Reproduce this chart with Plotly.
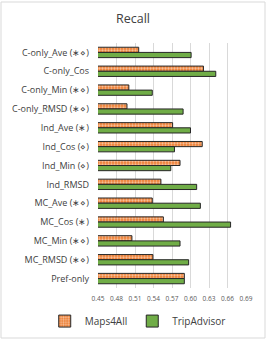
import plotly.graph_objects as go

categories = ["C-only_Ave (∗⋄)", "C-only_Cos", "C-only_Min (∗⋄)", "C-only_RMSD (∗⋄)",
              "Ind_Ave (∗)", "Ind_Cos (⋄)", "Ind_Min (⋄)", "Ind_RMSD",
              "MC_Ave (∗⋄)", "MC_Cos (∗)", "MC_Min (∗⋄)", "MC_RMSD (∗⋄)", "Pref-only"]
maps4all = [0.516, 0.621, 0.500, 0.497, 0.571, 0.619, 0.583, 0.552, 0.538, 0.556, 0.505, 0.539, 0.590]
tripadvisor = [0.601, 0.641, 0.538, 0.588, 0.600, 0.574, 0.568, 0.610, 0.616, 0.665, 0.583, 0.597, 0.590]
tick_vals = [0.45, 0.48, 0.51, 0.54, 0.57, 0.60, 0.63, 0.66, 0.69]
tick_text = ["0.45", "0.48", "0.51", "0.54", "0.57", "0.60", "0.63", "0.66", "0.69"]

FONT = "Open Sans"
fig = go.Figure()
fig.add_trace(go.Bar(
    y=categories, x=maps4all, name="Maps4All", orientation="h",
    marker=dict(color="#ED7D31", line=dict(color="#262626", width=1),
                pattern=dict(shape=".", bgcolor="#ED7D31", fgcolor="white", size=3, solidity=0.45, fillmode="overlay")),
))
fig.add_trace(go.Bar(
    y=categories, x=tripadvisor, name="TripAdvisor", orientation="h",
    marker=dict(color="#70AD47", line=dict(color="#262626", width=1)),
))
fig.update_layout(
    width=266, height=340,
    barmode="group", bargap=0.45, bargroupgap=0,
    paper_bgcolor="white", plot_bgcolor="white",
    margin=dict(l=98, r=20, t=43, b=52, autoexpand=False),
    title=dict(text="Recall", x=0.5, xanchor="center", y=0.945, yanchor="middle",
               font=dict(family=FONT, size=12.5, color="#404040")),
    font=dict(family=FONT, color="#404040"),
    showlegend=True,
    legend=dict(orientation="h", xref="paper", yref="paper",
                x=-0.36, xanchor="left", y=-0.135, yanchor="middle",
                font=dict(family=FONT, size=10, color="#404040"),
                traceorder="normal", itemwidth=30, tracegroupgap=0),
    xaxis=dict(range=[0.45, 0.69], tickvals=tick_vals, ticktext=tick_text,
               showgrid=True, gridcolor="#D9D9D9", gridwidth=1, zeroline=False,
               showline=False, tickfont=dict(family=FONT, size=6.5, color="#595959"),
               ticks="", fixedrange=True, automargin=False, ticklabelstandoff=5),
    yaxis=dict(autorange="reversed", showgrid=False, showline=False, ticks="",
               tickfont=dict(family=FONT, size=9, color="#404040"),
               automargin=False, ticklabelstandoff=8),
    shapes=[dict(type="rect", xref="paper", yref="paper",
                 x0=-98/148 + 1/148, x1=1 + 19/148, y0=-52/245 + 2/245, y1=1 + 41/245,
                 line=dict(color="#D9D9D9", width=1))],
)
fig.write_html("out.html", config={"displayModeBar": False},
               post_script="document.body.style.margin='0';document.body.style.padding='0';")
